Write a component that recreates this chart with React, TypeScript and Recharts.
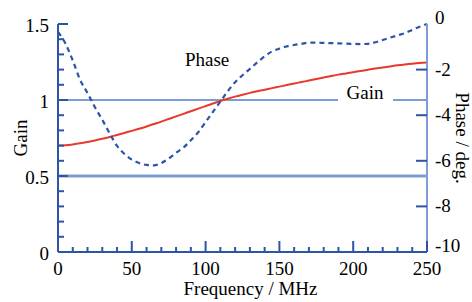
import React from "react";
import { ComposedChart, Line, XAxis, YAxis, ReferenceLine, ReferenceDot } from "recharts";

const freqs = [
  0, 5, 10, 15, 20, 25, 30, 35, 40, 45, 50, 55, 60, 65, 70, 75, 80, 85, 90, 95, 100, 105, 110, 115, 120, 125,
  130, 135, 140, 145, 150, 155, 160, 165, 170, 175, 180, 185, 190, 195, 200, 205, 210, 215, 220, 225, 230,
  235, 240, 245, 250,
];
const gainValues = [
  0.7, 0.703, 0.708, 0.715, 0.724, 0.734, 0.745, 0.757, 0.77, 0.783, 0.797, 0.811, 0.826, 0.842, 0.858, 0.875,
  0.892, 0.909, 0.926, 0.943, 0.96, 0.977, 0.993, 1.008, 1.022, 1.035, 1.047, 1.058, 1.068, 1.078, 1.088, 1.098,
  1.108, 1.118, 1.128, 1.138, 1.148, 1.158, 1.167, 1.175, 1.183, 1.191, 1.199, 1.207, 1.214, 1.221, 1.228,
  1.234, 1.239, 1.243, 1.246,
];
const phaseValues = [
  -0.35, -0.85, -1.6, -2.45, -3.03, -3.65, -4.2, -4.8, -5.35, -5.7, -5.95, -6.1, -6.18, -6.2, -6.1, -5.9, -5.65,
  -5.42, -5.1, -4.75, -4.3, -3.85, -3.4, -2.95, -2.55, -2.25, -1.97, -1.68, -1.42, -1.2, -1.08, -0.98, -0.92,
  -0.87, -0.82, -0.82, -0.83, -0.84, -0.85, -0.86, -0.87, -0.88, -0.87, -0.8, -0.7, -0.6, -0.5, -0.4, -0.26,
  -0.12, 0,
];
const freqTicks = [0, 10, 20, 30, 40, 50, 60, 70, 80, 90, 100, 110, 120, 130, 140, 150, 160, 170, 180, 190, 200, 210, 220, 230, 240, 250];
const gainTicks = [0, 0.1, 0.2, 0.3, 0.4, 0.5, 0.6, 0.7, 0.8, 0.9, 1, 1.1, 1.2, 1.3, 1.4, 1.5];
const phaseTicks = [-10, -8, -6, -4, -2, 0];

const data = freqs.map((f, i) => ({ f, gain: gainValues[i], phase: phaseValues[i] }));

const DARK = "#2c55a5";
const LIGHT = "#7f9dd4";
const RED = "#e8392c";
const txt = { fontFamily: '"Liberation Serif", "DejaVu Serif", serif', fontSize: 19, fill: "#000" };

const isMajor = (v: number, step: number) => Math.abs(v / step - Math.round(v / step)) < 1e-6;

const BottomTick = (props: any) => {
  const { x, y, payload } = props;
  const major = isMajor(payload.value, 50);
  return (
    <g>
      <line x1={x} x2={x} y1={y} y2={y - (major ? 11 : 5)} stroke={DARK} strokeWidth={2} />
      {major && (
        <text x={x} y={y + 23} textAnchor="middle" style={txt}>
          {payload.value}
        </text>
      )}
    </g>
  );
};

const TopTick = (props: any) => {
  const { x, y, payload } = props;
  const major = isMajor(payload.value, 50);
  return <line x1={x} x2={x} y1={y} y2={y + (major ? 11 : 5)} stroke={DARK} strokeWidth={2} />;
};

const LeftTick = (props: any) => {
  const { x, y, payload } = props;
  const major = isMajor(payload.value, 0.5);
  return (
    <g>
      <line x1={x} x2={x + (major ? 10 : 6)} y1={y} y2={y} stroke={DARK} strokeWidth={2} />
      {major && (
        <text x={x - 9} y={y + 8} textAnchor="end" style={txt}>
          {payload.value}
        </text>
      )}
    </g>
  );
};

const RightTick = (props: any) => {
  const { x, y, payload } = props;
  const inner = payload.value !== 0 && payload.value !== -10;
  return (
    <g>
      {inner && <line x1={x} x2={x - 11} y1={y} y2={y} stroke={DARK} strokeWidth={2} />}
      <text x={x + 8} y={y + (inner ? 6 : 0)} textAnchor="start" style={txt}>
        {payload.value}
      </text>
    </g>
  );
};

const GainTitle = (props: any) => {
  const vb = props.viewBox;
  const cx = vb.x + 20;
  const cy = vb.y + vb.height / 2;
  return (
    <text x={cx} y={cy} transform={`rotate(-90 ${cx} ${cy})`} textAnchor="middle" dominantBaseline="central" style={txt}>
      Gain
    </text>
  );
};

const PhaseTitle = (props: any) => {
  const vb = props.viewBox;
  const cx = vb.x + 35;
  const cy = vb.y + vb.height / 2;
  return (
    <text x={cx} y={cy} transform={`rotate(90 ${cx} ${cy})`} textAnchor="middle" dominantBaseline="central" style={txt}>
      Phase / deg.
    </text>
  );
};

const FreqTitle = (props: any) => {
  const vb = props.viewBox;
  return (
    <text x={vb.x + vb.width / 2 + 8} y={vb.y + 43} textAnchor="middle" style={txt}>
      Frequency / MHz
    </text>
  );
};

const GainTag = (props: any) => {
  const { cx, cy } = props;
  return (
    <g>
      <rect x={cx - 27} y={cy - 17} width={55} height={20} fill="#fff" />
      <text x={cx} y={cy - 1} textAnchor="middle" style={txt}>
        Gain
      </text>
    </g>
  );
};

const PhaseTag = (props: any) => {
  const { cx, cy } = props;
  return (
    <text x={cx} y={cy} textAnchor="middle" style={txt}>
      Phase
    </text>
  );
};

export default function App() {
  return (
    <div style={{ position: "absolute", left: 0, top: 0, width: 472, height: 302, background: "#fff" }}>
      <ComposedChart width={472} height={302} data={data} margin={{ top: 24, right: 0, bottom: 0, left: 0 }}>
        <XAxis
          dataKey="f"
          type="number"
          domain={[0, 250]}
          ticks={freqTicks}
          interval={0}
          height={50}
          tickSize={0}
          tickMargin={0}
          tickLine={false}
          axisLine={{ stroke: DARK, strokeWidth: 2 }}
          tick={<BottomTick />}
          label={<FreqTitle />}
        />
        <XAxis
          xAxisId="top"
          orientation="top"
          type="number"
          domain={[0, 250]}
          ticks={freqTicks}
          interval={0}
          height={0}
          tickSize={0}
          tickMargin={0}
          tickLine={false}
          axisLine={{ stroke: DARK, strokeWidth: 2 }}
          tick={<TopTick />}
        />
        <YAxis
          yAxisId="gain"
          type="number"
          domain={[0, 1.5]}
          ticks={gainTicks}
          interval={0}
          width={58}
          tickSize={0}
          tickMargin={0}
          tickLine={false}
          axisLine={{ stroke: DARK, strokeWidth: 2 }}
          tick={<LeftTick />}
          label={<GainTitle />}
        />
        <YAxis
          yAxisId="phase"
          orientation="right"
          type="number"
          domain={[-10, 0]}
          ticks={phaseTicks}
          interval={0}
          width={45}
          tickSize={0}
          tickMargin={0}
          tickLine={false}
          axisLine={{ stroke: LIGHT, strokeWidth: 2 }}
          tick={<RightTick />}
          label={<PhaseTitle />}
        />
        <ReferenceLine yAxisId="gain" y={0.5} stroke={LIGHT} strokeWidth={3} />
        <ReferenceLine yAxisId="gain" y={1} stroke={LIGHT} strokeWidth={2} />
        <ReferenceDot yAxisId="gain" x={208} y={1} shape={<GainTag />} />
        <ReferenceDot yAxisId="gain" x={101} y={1.224} shape={<PhaseTag />} />
        <Line
          yAxisId="gain"
          dataKey="gain"
          type="monotone"
          stroke={RED}
          strokeWidth={2}
          dot={false}
          isAnimationActive={false}
        />
        <Line
          yAxisId="phase"
          dataKey="phase"
          type="monotone"
          stroke={DARK}
          strokeWidth={2.2}
          strokeDasharray="5 4"
          dot={false}
          isAnimationActive={false}
        />
      </ComposedChart>
    </div>
  );
}
